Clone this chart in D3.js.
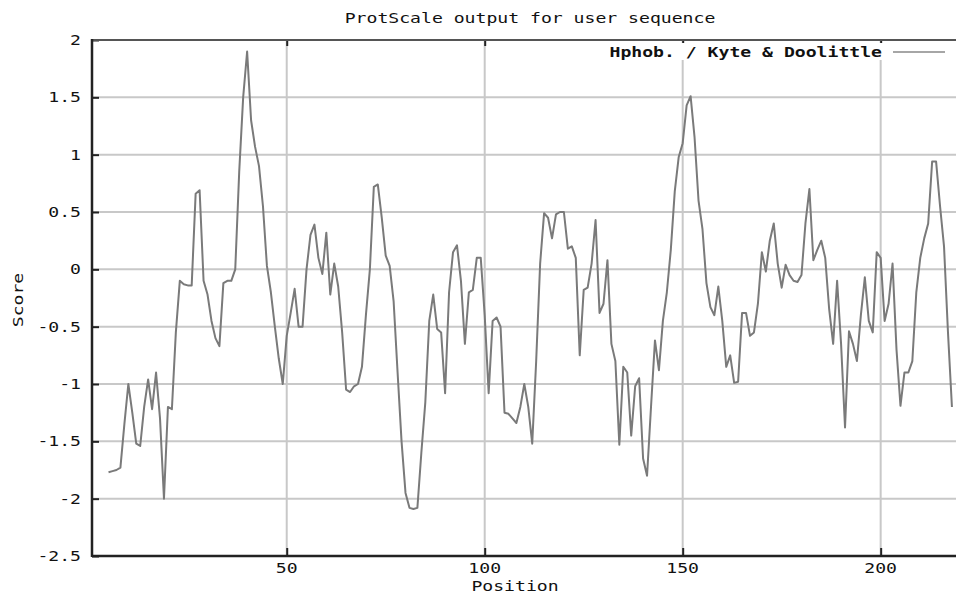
<!DOCTYPE html>
<html>
<head>
<meta charset="utf-8">
<script src="https://cdn.jsdelivr.net/npm/d3@7"></script>
<style>
  body { margin: 0; background: #fff; }
  text { font-family: "DejaVu Sans Mono", monospace; fill: #111; }
</style>
</head>
<body>
<script>
// values (window avg, Kyte & Doolittle)
var positions = d3.range(5, 219);
var scores = [
  -1.77,-1.76,-1.75,-1.73,-1.35,-1.0,-1.25,-1.52,-1.54,-1.2,
  -0.96,-1.22,-0.9,-1.3,-2.0,-1.2,-1.22,-0.55,-0.1,-0.13,
  -0.14,-0.14,0.66,0.69,-0.1,-0.22,-0.45,-0.6,-0.67,-0.12,
  -0.1,-0.1,0.0,0.85,1.5,1.9,1.3,1.07,0.9,0.55,
  0.03,-0.2,-0.5,-0.78,-1.0,-0.58,-0.38,-0.17,-0.5,-0.5,
  0.0,0.3,0.39,0.1,-0.04,0.32,-0.22,0.05,-0.15,-0.55,
  -1.05,-1.07,-1.02,-1.0,-0.85,-0.4,0.0,0.72,0.74,0.45,
  0.12,0.03,-0.28,-0.9,-1.5,-1.95,-2.08,-2.09,-2.08,-1.6,
  -1.16,-0.45,-0.22,-0.52,-0.55,-1.08,-0.2,0.15,0.21,-0.1,
  -0.65,-0.2,-0.18,0.1,0.1,-0.4,-1.08,-0.45,-0.42,-0.5,
  -1.25,-1.26,-1.3,-1.34,-1.2,-1.0,-1.2,-1.52,-0.8,0.05,
  0.49,0.45,0.27,0.48,0.5,0.5,0.18,0.2,0.1,-0.75,
  -0.18,-0.16,0.05,0.43,-0.38,-0.3,0.08,-0.65,-0.8,-1.53,
  -0.85,-0.9,-1.45,-1.02,-0.95,-1.65,-1.8,-1.2,-0.62,-0.88,
  -0.45,-0.2,0.17,0.68,0.98,1.1,1.43,1.51,1.15,0.6,
  0.35,-0.12,-0.33,-0.4,-0.15,-0.45,-0.85,-0.75,-0.99,-0.98,
  -0.38,-0.38,-0.58,-0.55,-0.3,0.15,-0.02,0.25,0.4,0.05,
  -0.16,0.04,-0.05,-0.1,-0.11,-0.05,0.4,0.7,0.08,0.17,
  0.25,0.1,-0.35,-0.65,-0.1,-0.65,-1.38,-0.54,-0.65,-0.8,
  -0.4,-0.07,-0.45,-0.55,0.15,0.1,-0.45,-0.3,0.05,-0.7,
  -1.19,-0.9,-0.9,-0.8,-0.2,0.1,0.27,0.4,0.94,0.94,
  0.55,0.2,-0.55,-1.2
];
var xTicks = [50, 100, 150, 200];
var yTicks = [2, 1.5, 1, 0.5, 0, -0.5, -1, -1.5, -2, -2.5];
var title = "ProtScale output for user sequence";
var legendLabel = "Hphob. / Kyte & Doolittle";

var size = { width: 957, height: 596 };
var plot = { left: 92, right: 956, top: 40, bottom: 556 };
var charW = 10.9; // stretched gnuplot font

var svg = d3.select("body").append("svg")
            .attr("width", size.width)
            .attr("height", size.height);

var x = d3.scaleLinear().domain([1, 219]).range([92.7, 955.9]);
var y = d3.scaleLinear().domain([-2.5, 2]).range([plot.bottom, plot.top]);

function label(g, str, px, py, anchor, weight) {
  return g.append("text")
          .attr("x", px).attr("y", py)
          .attr("text-anchor", anchor)
          .attr("dominant-baseline", "central")
          .attr("font-size", 14)
          .attr("font-weight", weight || "normal")
          .attr("textLength", str.length * charW)
          .attr("lengthAdjust", "spacingAndGlyphs")
          .text(str);
}

// grid
svg.append("g").selectAll("line.h")
   .data(yTicks.filter(d => d > -2.5 && d < 2))
   .enter().append("line")
   .attr("x1", plot.left).attr("x2", plot.right)
   .attr("y1", d => y(d)).attr("y2", d => y(d))
   .attr("stroke", "#c8c8c8").attr("stroke-width", 2);

svg.append("g").selectAll("line.v")
   .data(xTicks)
   .enter().append("line")
   .attr("x1", d => x(d)).attr("x2", d => x(d))
   .attr("y1", plot.top).attr("y2", plot.bottom)
   .attr("stroke", "#c8c8c8").attr("stroke-width", 2);

// axes with inward ticks
svg.append("g")
   .attr("transform", `translate(${plot.left},0)`)
   .call(d3.axisRight(y).tickValues(yTicks).tickSize(7).tickFormat(""))
   .call(g => g.select(".domain").remove())
   .selectAll("line").attr("stroke", "#222").attr("stroke-width", 2);

svg.append("g")
   .attr("transform", `translate(0,${plot.bottom})`)
   .call(d3.axisTop(x).tickValues(xTicks).tickSize(8).tickFormat(""))
   .call(g => g.select(".domain").remove())
   .selectAll("line").attr("stroke", "#222").attr("stroke-width", 2);

svg.append("g")
   .attr("transform", `translate(0,${plot.top})`)
   .call(d3.axisBottom(x).tickValues(xTicks).tickSize(6).tickFormat(""))
   .call(g => g.select(".domain").remove())
   .selectAll("line").attr("stroke", "#222").attr("stroke-width", 2);

// frame
svg.append("line")
   .attr("x1", plot.left).attr("x2", plot.right)
   .attr("y1", plot.top).attr("y2", plot.top)
   .attr("stroke", "#555").attr("stroke-width", 2);
svg.append("line")
   .attr("x1", plot.left).attr("x2", plot.left)
   .attr("y1", plot.top - 1).attr("y2", plot.bottom + 1)
   .attr("stroke", "#222").attr("stroke-width", 2.5);
svg.append("line")
   .attr("x1", plot.left).attr("x2", plot.right)
   .attr("y1", plot.bottom).attr("y2", plot.bottom)
   .attr("stroke", "#222").attr("stroke-width", 2.5);

// tick labels
var labels = svg.append("g");
yTicks.forEach(d => label(labels, String(d), 81, y(d), "end"));
xTicks.forEach(d => label(labels, String(d), x(d), 568, "middle"));

label(svg, title, 530, 18, "middle");
label(svg, "Position", 515, 586, "middle");
label(svg, "Score", 0, 0, "middle")
   .attr("transform", "translate(18,300) rotate(-90)");

// legend
var legend = svg.append("g");
legend.append("rect")
      .attr("x", 600).attr("y", 43).attr("width", 355).attr("height", 17)
      .attr("fill", "#fff");
label(legend, legendLabel, 882, 52, "end", "bold");
legend.append("line")
      .attr("x1", 893).attr("x2", 945).attr("y1", 52).attr("y2", 52)
      .attr("stroke", "#888").attr("stroke-width", 1.5);

// the profile
var line = d3.line()
             .x((d, i) => x(positions[i]))
             .y(d => y(d));

svg.append("path")
   .datum(scores)
   .attr("d", line)
   .attr("fill", "none")
   .attr("stroke", "#7a7a7a")
   .attr("stroke-width", 2)
   .attr("stroke-linejoin", "round");
</script>
</body>
</html>
